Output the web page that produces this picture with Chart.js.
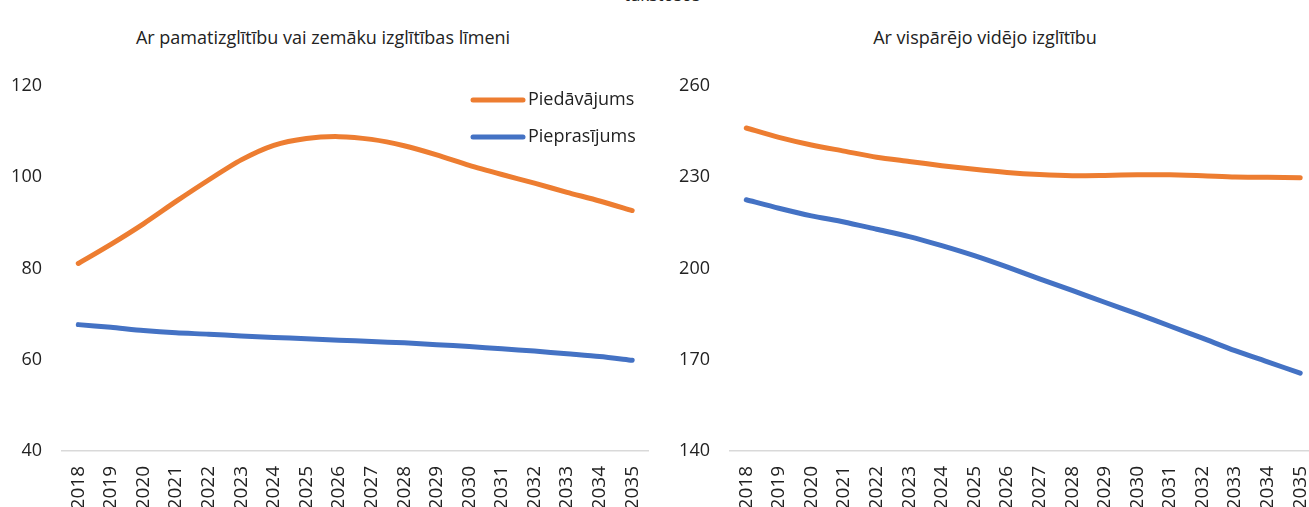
<!DOCTYPE html>
<html>
<head>
<meta charset="utf-8">
<script src="https://cdn.jsdelivr.net/npm/chart.js@4.4.0/dist/chart.umd.min.js"></script>
<style>
  html, body { margin: 0; padding: 0; background: #fff; overflow: hidden; width: 1309px; height: 507px; }
  .box { position: absolute; top: 0; height: 507px; }
  #left { left: 0; width: 670px; }
  #right { left: 660px; width: 678px; }
  .ttl { position: absolute; font-family: "Open Sans", sans-serif; font-size: 18px; color: #222; white-space: nowrap; transform: translateX(-50%); }
  #unit { position: absolute; left: 662px; top: -17px; transform: translateX(-50%); font-family: "Open Sans", sans-serif; font-size: 17px; color: #222; }
</style>
</head>
<body>
<div id="unit">tūkstošos</div>
<div class="ttl" style="left:323px; top:25px;">Ar pamatizglītību vai zemāku izglītības līmeni</div>
<div class="ttl" style="left:985px; top:25px;">Ar vispārējo vidējo izglītību</div>
<div class="box" id="left"><canvas id="c1"></canvas></div>
<div class="box" id="right"><canvas id="c2"></canvas></div>
<script>
// years on the x axis
const years = ["2018","2019","2020","2021","2022","2023","2024","2025","2026","2027","2028","2029","2030","2031","2032","2033","2034","2035"];

// left panel: basic education or lower
const basicSupply = [81.1, 85.3, 89.8, 94.7, 99.4, 103.8, 107.0, 108.5, 108.9, 108.3, 106.9, 104.9, 102.6, 100.6, 98.7, 96.7, 94.8, 92.7];
const basicDemand = [67.7, 67.1, 66.4, 65.9, 65.6, 65.2, 64.9, 64.6, 64.3, 64.0, 63.7, 63.3, 62.9, 62.4, 61.9, 61.3, 60.7, 59.9];
const basicTicks = [40, 60, 80, 100, 120];

// right panel: general secondary education
const secSupply = [246.2, 243.1, 240.6, 238.6, 236.6, 235.2, 233.8, 232.6, 231.6, 230.9, 230.5, 230.6, 230.8, 230.8, 230.5, 230.1, 230.0, 229.8];
const secDemand = [222.6, 219.8, 217.3, 215.3, 212.9, 210.5, 207.5, 204.2, 200.5, 196.6, 192.8, 188.9, 185.1, 181.1, 177.1, 173.0, 169.3, 165.6];
const secTicks = [140, 170, 200, 230, 260];

const labels = ["Piedāvājums", "Pieprasījums"];
const ORANGE = "#ED7D31", BLUE = "#4472C4";
const FONT = "'Open Sans', sans-serif";

Chart.defaults.font.family = FONT;
Chart.defaults.color = "#222";

// legend drawn inside the plot area (left chart only)
const innerLegend = {
  id: "innerLegend",
  afterDraw(chart, args, opts) {
    if (!opts.show) return;
    const ctx = chart.ctx;
    ctx.save();
    ctx.font = "18px " + FONT;
    ctx.textBaseline = "middle";
    chart.data.datasets.forEach((ds, i) => {
      const y = opts.y + i * opts.gap;
      ctx.strokeStyle = ds.borderColor;
      ctx.lineWidth = 5;
      ctx.lineCap = "round";
      ctx.beginPath();
      ctx.moveTo(opts.x, y);
      ctx.lineTo(opts.x + 50, y);
      ctx.stroke();
      ctx.fillStyle = "#222";
      ctx.fillText(ds.label, opts.x + 55, y);
    });
    ctx.restore();
  }
};

function makeChart(id, supply, demand, ticks, yWidth, legend) {
  const min = ticks[0], max = ticks[ticks.length - 1];
  const step = ticks[1] - ticks[0];
  return new Chart(document.getElementById(id), {
    type: "line",
    data: {
      labels: years,
      datasets: [
        { label: labels[0], data: supply, borderColor: ORANGE, backgroundColor: ORANGE },
        { label: labels[1], data: demand, borderColor: BLUE, backgroundColor: BLUE }
      ]
    },
    options: {
      responsive: true,
      maintainAspectRatio: false,
      animation: false,
      layout: { padding: { top: 86, right: 0, bottom: 0, left: 0 } },
      elements: {
        line: { borderWidth: 5, tension: 0.25, borderCapStyle: "round", borderJoinStyle: "round" },
        point: { radius: 0 }
      },
      plugins: {
        legend: { display: false },
        tooltip: { enabled: false },
        innerLegend: legend
      },
      scales: {
        x: {
          offset: true,
          grid: { display: false, drawTicks: false },
          border: { color: "#d9d9d9", width: 1.5 },
          ticks: { font: { size: 19 }, maxRotation: 90, minRotation: 90, padding: 15, autoSkip: false },
          afterFit(s) { s.height = 56; }
        },
        y: {
          min: min, max: max,
          grid: { display: false, drawTicks: false },
          border: { display: false },
          ticks: { stepSize: step, font: { size: 18 }, padding: 20 },
          afterFit(s) { s.width = yWidth; }
        }
      }
    },
    plugins: [innerLegend]
  });
}

makeChart("c1", basicSupply, basicDemand, basicTicks, 62, { show: true, x: 473, y: 100, gap: 37 });
makeChart("c2", secSupply, secDemand, secTicks, 70, { show: false });
</script>
</body>
</html>
